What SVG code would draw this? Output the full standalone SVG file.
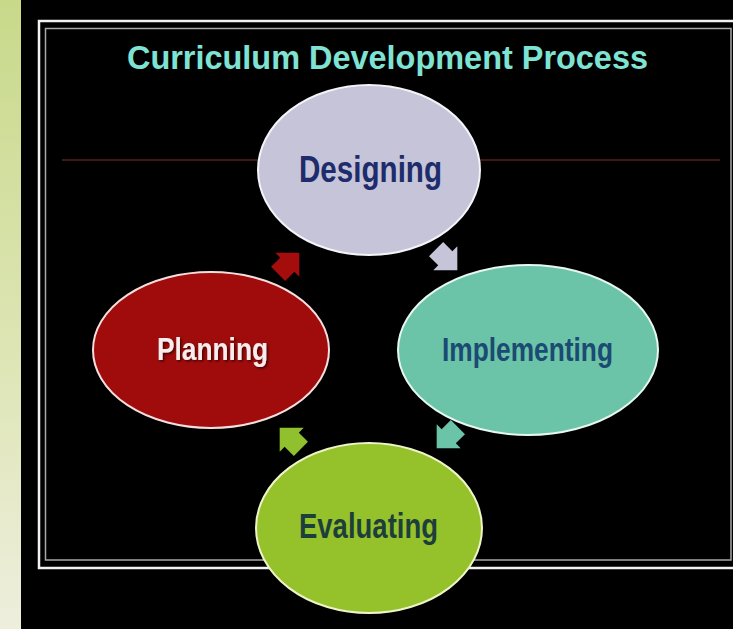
<svg xmlns="http://www.w3.org/2000/svg" width="733" height="629" viewBox="0 0 733 629">
  <defs>
    <linearGradient id="strip" x1="0" y1="0" x2="0" y2="1">
      <stop offset="0" stop-color="#c8d98a"/>
      <stop offset="0.6" stop-color="#dfe6b8"/>
      <stop offset="1" stop-color="#eeeedd"/>
    </linearGradient>
    <filter id="shadow" x="-10%" y="-20%" width="120%" height="140%">
      <feDropShadow dx="1.5" dy="1.5" stdDeviation="0.8" flood-color="#3a0000" flood-opacity="0.9"/>
    </filter>
    <path id="arr" d="M-14,-10 L-1,-10 L-1,-17 L16,0 L-1,17 L-1,10 L-14,10 Z"/>
    <style>
      .lbl { font-family: "Liberation Sans", Arial, sans-serif; font-weight: bold; }
      .node { stroke-width: 2; }
    </style>
  </defs>

  <rect x="0" y="0" width="733" height="629" fill="#000"/>
  <rect x="0" y="0" width="21" height="629" fill="url(#strip)"/>

  <!-- frame -->
  <rect x="39" y="21" width="700" height="547" fill="none" stroke="#f2f2f2" stroke-width="2.5"/>
  <rect x="45.5" y="28.5" width="685.5" height="531.5" fill="none" stroke="#a8a8a8" stroke-width="1.5"/>
  <line x1="62" y1="160" x2="720" y2="160" stroke="#5e1c1c" stroke-width="1.5"/>

  <text class="lbl" x="127" y="69" font-size="33" fill="#7fe3d3" textLength="521" lengthAdjust="spacingAndGlyphs">Curriculum Development Process</text>

  <g id="designing">
    <ellipse class="node" cx="369" cy="170" rx="111" ry="85" fill="#c5c4d8" stroke="#f4f4f8"/>
    <text class="lbl" x="299" y="182" font-size="37" fill="#1e2c6b" textLength="143" lengthAdjust="spacingAndGlyphs">Designing</text>
  </g>

  <g id="implementing">
    <ellipse class="node" cx="528" cy="350" rx="130" ry="85" fill="#6bc4a7" stroke="#e6f6f0"/>
    <text class="lbl" x="442" y="361" font-size="33" fill="#1b4a72" textLength="171" lengthAdjust="spacingAndGlyphs">Implementing</text>
  </g>

  <g id="planning">
    <ellipse class="node" cx="211" cy="350" rx="118" ry="78" fill="#a00c0c" stroke="#f6dede"/>
    <text class="lbl" x="157" y="360" font-size="32" fill="#f8ecec" textLength="111" lengthAdjust="spacingAndGlyphs" filter="url(#shadow)">Planning</text>
  </g>

  <g id="evaluating">
    <ellipse class="node" cx="369" cy="528" rx="113" ry="85" fill="#95c22b" stroke="#eef4c8"/>
    <text class="lbl" x="299" y="538" font-size="35" fill="#1d3f3c" textLength="139" lengthAdjust="spacingAndGlyphs">Evaluating</text>
  </g>

  <g id="connectors">
    <use href="#arr" fill="#a50d0d" transform="translate(288,264) rotate(-45)"/>
    <use href="#arr" fill="#c5c4d8" transform="translate(446,259) rotate(45)"/>
    <use href="#arr" fill="#6bc4a7" transform="translate(448,437) rotate(135)"/>
    <use href="#arr" fill="#90c02e" transform="translate(291,439) rotate(-135)"/>
  </g>
</svg>
